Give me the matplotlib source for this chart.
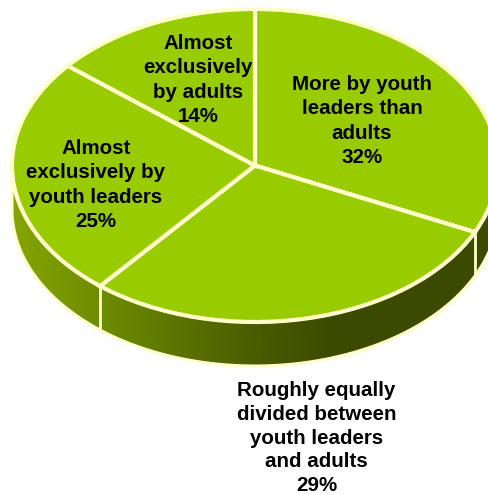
import numpy as np
import matplotlib
matplotlib.use('Agg')
import matplotlib.pyplot as plt
from matplotlib.colors import LinearSegmentedColormap
from matplotlib.patches import Polygon

plt.rcParams['font.family'] = ['Liberation Sans', 'DejaVu Sans']

# share of each slice, clockwise from 12 o'clock
labels = ['More by youth\nleaders than\nadults',
          'Roughly equally\ndivided between\nyouth leaders\nand adults',
          'Almost\nexclusively by\nyouth leaders',
          'Almost\nexclusively\nby adults']
shares = [32, 29, 25, 14]

W, H = 488, 495
CX, CY = 255, 165.5   # pie centre in pixels
RX, RY = 243, 156.5   # squashed radii in pixels
DEPTH = 44 / RY       # height of the side wall
EDGE = '#FFFFCC'
TOP = '#99CC00'

# where each text block sits, in pixels
label_xy = [(362, 121), (316.5, 438), (96, 185), (198, 80)]
label_spacing = [1.345, 1.31, 1.345, 1.345]


def px(x, y):
    return (x - CX) / RX, (CY - y) / RY


fig = plt.figure(figsize=(W / 100, H / 100), dpi=100)
ax = fig.add_axes([0, 0, 1, 1])

wedges, _ = ax.pie(shares, startangle=90, counterclock=False, radius=1,
                   colors=[TOP] * len(shares),
                   wedgeprops=dict(edgecolor=EDGE, linewidth=3, zorder=3))

# side wall: lower half of the rim pushed down by DEPTH
t = np.radians(np.linspace(180, 360, 300))
rim_x, rim_y = np.cos(t), np.sin(t)
wall = np.vstack([np.column_stack([rim_x, rim_y]),
                  np.column_stack([rim_x[::-1], rim_y[::-1] - DEPTH])])
patch = Polygon(wall, closed=True, facecolor='none', edgecolor=EDGE,
                linewidth=2.2, zorder=2)
ax.add_patch(patch)

wall_cmap = LinearSegmentedColormap.from_list(
    'wall', [(0, '#85A500'), (0.2, '#6B8A00'), (0.5, '#4A5C00'),
             (0.66, '#3C4A00'), (1, '#3C4A00')])
grad = ax.imshow(np.linspace(0, 1, 256).reshape(1, -1), cmap=wall_cmap,
                 extent=(-1, 1, -1 - DEPTH, 0), aspect='auto', zorder=1)
grad.set_clip_path(patch)

# pie and imshow both touch the limits, so flatten the view last
ax.set_aspect('auto')
ax.set_xlim(px(0, 0)[0], px(W, 0)[0])
ax.set_ylim(px(0, H)[1], px(0, 0)[1])

# vertical seams under the slice boundaries that face the viewer
bounds = np.cumsum(shares) / np.sum(shares)
for b in bounds[:-1]:
    a = np.pi / 2 - 2 * np.pi * b
    if np.sin(a) < 0:
        ax.plot([np.cos(a)] * 2, [np.sin(a), np.sin(a) - DEPTH],
                color=EDGE, lw=2, zorder=2.5)

for lab, s, (x, y), sp in zip(labels, shares, label_xy, label_spacing):
    tx, ty = px(x, y)
    ax.text(tx, ty, f'{lab}\n{s}%', ha='center', va='center', fontsize=14.8,
            fontweight='bold', color='black', linespacing=sp, zorder=5)

fig.savefig('out.png', dpi=100)
